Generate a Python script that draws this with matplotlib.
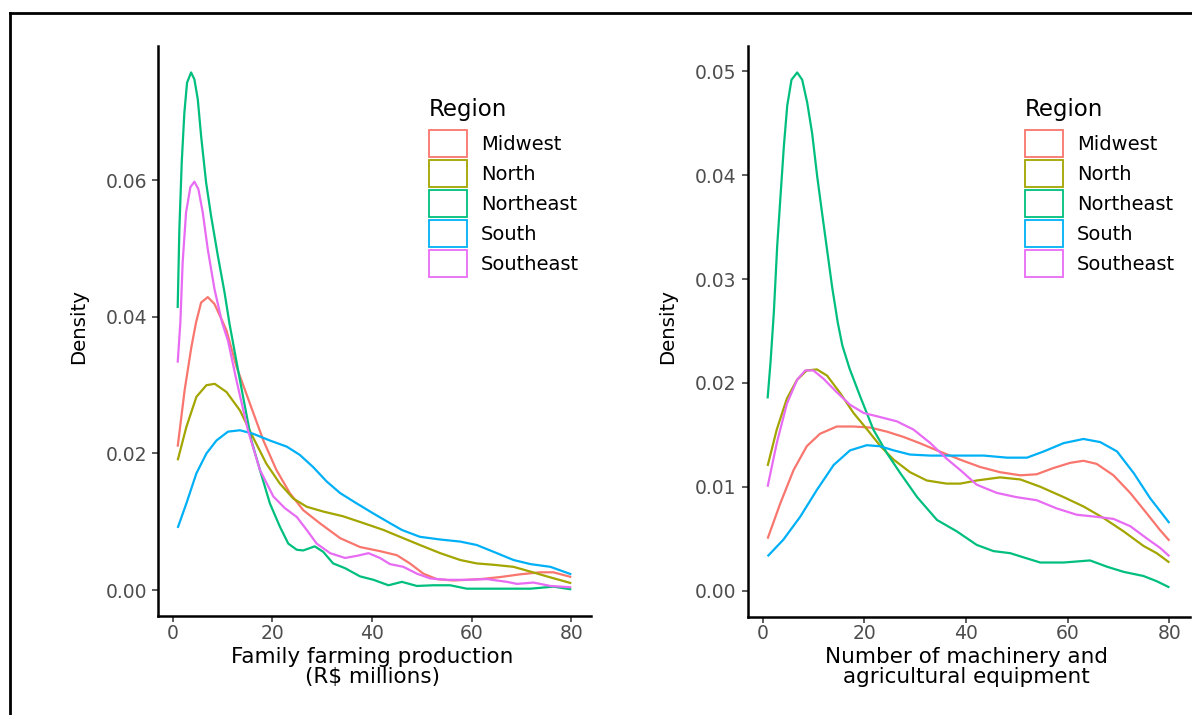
import matplotlib
matplotlib.use("Agg")
import matplotlib.pyplot as plt
from matplotlib.patches import Patch
from matplotlib.lines import Line2D

plt.rcParams['font.family'] = ['DejaVu Sans']

regions = ["Midwest", "North", "Northeast", "South", "Southeast"]
colors = ["#F8766D", "#A3A500", "#00BF7D", "#00B0F6", "#E76BF3"]

# ---- Panel 1: Family farming production (R$ millions) ----
ff_midwest_x = [1, 2.4, 3.75, 4.69, 5.7, 7.04, 8.38, 9.9, 10.8, 12.8, 15.5, 18.2, 20.8, 23.5, 26.2, 29.5, 33.6, 37.6, 41.6, 45.0, 47.6, 50.3, 53.0, 56.3, 61.7, 65.7, 69.7, 73.8, 76.4, 80]
ff_midwest_y = [0.0210, 0.0293, 0.0356, 0.0392, 0.0421, 0.0429, 0.0419, 0.0395, 0.0380, 0.0327, 0.0273, 0.0219, 0.0176, 0.0142, 0.0117, 0.0098, 0.0076, 0.0063, 0.0057, 0.0051, 0.0039, 0.0024, 0.0016, 0.0014, 0.0016, 0.0019, 0.0023, 0.0026, 0.0026, 0.0019]

ff_north_x = [1, 2.75, 4.76, 6.77, 8.44, 10.8, 13.5, 16.1, 18.8, 21.5, 24.2, 26.9, 30.2, 34.2, 38.3, 42.3, 45.6, 49.6, 53.7, 57.7, 61.0, 64.4, 68.4, 71.8, 75.1, 80]
ff_north_y = [0.0190, 0.0239, 0.0283, 0.0300, 0.0302, 0.0290, 0.0263, 0.0224, 0.0185, 0.0156, 0.0134, 0.0122, 0.0115, 0.0108, 0.0098, 0.0088, 0.0078, 0.0066, 0.0054, 0.0044, 0.0039, 0.0037, 0.0034, 0.0027, 0.0020, 0.0010]

ff_northeast_x = [1, 1.34, 1.81, 2.34, 2.88, 3.69, 4.35, 5.03, 5.7, 6.7, 7.7, 9.05, 10.4, 11.4, 13.5, 15.8, 17.5, 19.5, 21.5, 23.2, 24.9, 26.2, 28.5, 30.2, 32.2, 34.6, 37.6, 40.3, 43.3, 46.0, 49.0, 52.3, 55.7, 59.0, 65.1, 71.8, 76.4, 80]
ff_northeast_y = [0.0413, 0.0529, 0.0626, 0.0699, 0.0743, 0.0758, 0.0748, 0.0719, 0.0665, 0.0597, 0.0548, 0.0490, 0.0436, 0.0390, 0.0307, 0.0219, 0.0176, 0.0127, 0.0093, 0.0068, 0.0059, 0.0058, 0.0064, 0.0056, 0.0039, 0.0032, 0.0020, 0.0015, 0.0007, 0.0012, 0.0006, 0.0007, 0.0007, 0.0002, 0.0002, 0.0002, 0.0005, 0.0001]

ff_south_x = [1, 2.75, 4.76, 6.77, 8.78, 11.1, 13.5, 16.1, 19.5, 22.9, 25.5, 28.2, 30.9, 33.6, 36.9, 40.3, 43.6, 46.0, 49.6, 53.7, 57.7, 61.0, 64.4, 68.4, 71.8, 75.8, 80]
ff_south_y = [0.0091, 0.0127, 0.0171, 0.0200, 0.0219, 0.0232, 0.0234, 0.0229, 0.0219, 0.0210, 0.0198, 0.0180, 0.0159, 0.0142, 0.0127, 0.0112, 0.0098, 0.0088, 0.0078, 0.0074, 0.0071, 0.0066, 0.0056, 0.0044, 0.0038, 0.0034, 0.0023]

ff_southeast_x = [1, 1.54, 2.0, 2.68, 3.55, 4.35, 5.16, 6.03, 7.04, 8.38, 9.9, 11.1, 12.8, 15.1, 17.5, 20.2, 22.5, 24.9, 26.9, 28.9, 31.6, 34.6, 36.9, 39.3, 41.6, 43.6, 46.3, 49.0, 51.7, 55.0, 59.0, 63.1, 67.1, 69.1, 72.4, 75.8, 80]
ff_southeast_y = [0.0333, 0.0392, 0.0480, 0.0553, 0.0590, 0.0598, 0.0587, 0.0553, 0.0499, 0.0441, 0.0392, 0.0365, 0.0307, 0.0234, 0.0176, 0.0137, 0.0120, 0.0107, 0.0088, 0.0068, 0.0054, 0.0047, 0.0050, 0.0054, 0.0047, 0.0038, 0.0034, 0.0024, 0.0017, 0.0015, 0.0015, 0.0016, 0.0012, 0.0009, 0.0011, 0.0006, 0.0004]

# ---- Panel 2: Number of machinery and agricultural equipment ----
me_midwest_x = [1, 3.5, 6.1, 8.7, 11.3, 14.6, 17.9, 21.2, 24.5, 27.7, 30.9, 34.3, 38.9, 42.8, 46.7, 50.7, 53.9, 57.2, 60.5, 63.1, 65.7, 69.0, 72.3, 75.6, 78.2, 80]
me_midwest_y = [0.0050, 0.0084, 0.0116, 0.0139, 0.0151, 0.0158, 0.0158, 0.0157, 0.0153, 0.0148, 0.0142, 0.0135, 0.0126, 0.0119, 0.0114, 0.0111, 0.0112, 0.0118, 0.0123, 0.0125, 0.0122, 0.0111, 0.0094, 0.0074, 0.0058, 0.0048]

me_north_x = [1, 2.8, 4.8, 6.8, 8.7, 10.7, 12.7, 15.3, 17.9, 20.6, 23.2, 25.8, 29.0, 32.3, 36.2, 38.9, 42.1, 46.7, 50.7, 54.6, 59.2, 63.1, 67.0, 71.0, 74.9, 77.5, 80]
me_north_y = [0.0120, 0.0155, 0.0185, 0.0203, 0.0212, 0.0213, 0.0207, 0.0190, 0.0171, 0.0155, 0.0139, 0.0126, 0.0114, 0.0106, 0.0103, 0.0103, 0.0106, 0.0109, 0.0107, 0.0100, 0.0090, 0.0081, 0.0070, 0.0057, 0.0043, 0.0036, 0.0027]

me_northeast_x = [1, 1.58, 2.23, 2.89, 3.54, 4.2, 4.86, 5.7, 6.82, 7.8, 8.79, 9.77, 10.75, 11.73, 12.7, 13.7, 14.8, 15.7, 17.1, 19.2, 21.8, 24.5, 27.1, 30.4, 34.3, 38.2, 42.1, 45.4, 48.7, 51.3, 54.6, 59.2, 64.4, 67.7, 71.0, 74.9, 77.5, 80]
me_northeast_y = [0.0185, 0.0220, 0.0268, 0.0332, 0.0380, 0.0428, 0.0467, 0.0492, 0.0499, 0.0492, 0.0470, 0.0440, 0.0399, 0.0363, 0.0328, 0.0292, 0.0258, 0.0236, 0.0214, 0.0187, 0.0155, 0.0132, 0.0113, 0.0090, 0.0068, 0.0057, 0.0044, 0.0038, 0.0036, 0.0032, 0.0027, 0.0027, 0.0029, 0.0023, 0.0018, 0.0014, 0.0009, 0.0003]

me_south_x = [1, 4.1, 7.4, 10.7, 14.0, 17.2, 20.5, 23.1, 25.8, 29.0, 33.0, 38.9, 43.5, 48.1, 52.0, 55.3, 59.2, 63.1, 66.4, 69.7, 73.0, 76.2, 80]
me_south_y = [0.0033, 0.0049, 0.0071, 0.0097, 0.0121, 0.0135, 0.0140, 0.0139, 0.0135, 0.0131, 0.0130, 0.0130, 0.0130, 0.0128, 0.0128, 0.0134, 0.0142, 0.0146, 0.0143, 0.0134, 0.0113, 0.0089, 0.0065]

me_southeast_x = [1, 2.8, 4.8, 6.8, 8.4, 10.0, 12.0, 14.6, 17.2, 19.9, 23.2, 26.4, 29.7, 33.0, 36.2, 38.9, 42.1, 46.1, 49.9, 53.9, 57.9, 61.8, 65.7, 69.0, 72.3, 75.6, 78.2, 80]
me_southeast_y = [0.0100, 0.0142, 0.0180, 0.0203, 0.0212, 0.0212, 0.0204, 0.0191, 0.0179, 0.0171, 0.0167, 0.0163, 0.0155, 0.0142, 0.0127, 0.0116, 0.0102, 0.0094, 0.0090, 0.0087, 0.0079, 0.0073, 0.0071, 0.0069, 0.0062, 0.0050, 0.0041, 0.0033]

x_ticks = [0, 20, 40, 60, 80]
ff_yticks = [0.00, 0.02, 0.04, 0.06]
me_yticks = [0.00, 0.01, 0.02, 0.03, 0.04, 0.05]
ff_xlabel = "Family farming production\n(R$ millions)"
me_xlabel = "Number of machinery and\nagricultural equipment"
legend_title = "Region"
y_title = "Density"

ff_series = [(ff_midwest_x, ff_midwest_y), (ff_north_x, ff_north_y), (ff_northeast_x, ff_northeast_y),
             (ff_south_x, ff_south_y), (ff_southeast_x, ff_southeast_y)]
me_series = [(me_midwest_x, me_midwest_y), (me_north_x, me_north_y), (me_northeast_x, me_northeast_y),
             (me_south_x, me_south_y), (me_southeast_x, me_southeast_y)]

W, H = 1192, 715
fig = plt.figure(figsize=(W / 100, H / 100), dpi=100)
fig.patch.set_facecolor("white")

ax1 = fig.add_axes([158 / W, 1 - 616 / H, 433 / W, 569.5 / H])
ax2 = fig.add_axes([747.5 / W, 1 - 616.5 / H, 442 / W, 571 / H])

def style(ax, series, yticks, ylim, xlabel, legend_x, ylabel_x):
    for (xs, ys), c in zip(series, colors):
        ax.plot(xs, ys, color=c, lw=1.6, solid_capstyle="butt", solid_joinstyle="round")
    ax.set_xlim(-2.95, 83.95)
    ax.set_ylim(*ylim)
    ax.set_xticks(x_ticks)
    ax.set_yticks(yticks)
    ax.set_yticklabels([f"{v:.2f}" for v in yticks])
    for s in ["top", "right"]:
        ax.spines[s].set_visible(False)
    for s in ["left", "bottom"]:
        ax.spines[s].set_linewidth(1.8)
        ax.spines[s].set_color("black")
    ax.tick_params(axis="both", length=4, width=1.1, color="#333333",
                   labelcolor="#4D4D4D", labelsize=13.5)
    ax.tick_params(axis="y", pad=4)
    ax.tick_params(axis="x", pad=1.5)
    ax.set_xlabel(xlabel, fontsize=15.5, linespacing=1.0)
    ax.xaxis.set_label_coords(0.495, -0.054)
    handles = [Patch(facecolor="white", edgecolor=c, linewidth=1.3) for c in colors]
    fig.legend(handles, regions, loc="upper left",
               bbox_to_anchor=(legend_x / W, 1 - 130 / H), frameon=False,
               fontsize=14, handlelength=1.93, handleheight=1.76, labelspacing=0.155,
               handletextpad=0.75, borderpad=0, borderaxespad=0)
    fig.text(legend_x / W, 1 - 116 / H, legend_title, fontsize=16.5, ha="left", va="baseline")
    fig.text(ylabel_x / W, 1 - 327 / H, y_title, rotation=90, ha="center", va="center", fontsize=14.2)

style(ax1, ff_series, ff_yticks, (-0.0038, 0.0796), ff_xlabel, 429, 79)
style(ax2, me_series, me_yticks, (-0.0025, 0.0525), me_xlabel, 1025, 668)

# outer frame (top and left edges visible in reference)
fig.add_artist(Line2D([10 / W, 1.0], [1 - 13 / H, 1 - 13 / H], color="black", lw=2, transform=fig.transFigure))
fig.add_artist(Line2D([10 / W, 10 / W], [0.0, 1 - 13 / H], color="black", lw=2, transform=fig.transFigure))

fig.savefig("out.png", dpi=100, facecolor="white")
